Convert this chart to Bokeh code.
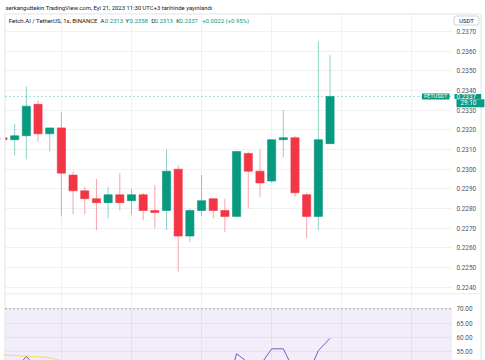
from bokeh.plotting import figure
from bokeh.models import (Range1d, LinearAxis, Grid, FixedTicker, NumeralTickFormatter,
                          Label, ColumnDataSource)
from bokeh.layouts import column
from bokeh.embed import file_html
from bokeh.resources import INLINE
from bokeh.core.properties import value

# ---------------- data ----------------
idx = list(range(29))
opens  = [0.2316, 0.2315, 0.2317, 0.2333, 0.2318, 0.2321, 0.2297, 0.2289, 0.2285, 0.2283,
          0.2287, 0.2284, 0.2287, 0.2279, 0.2279, 0.2300, 0.2266, 0.2279, 0.2285, 0.2279,
          0.2276, 0.2308, 0.2299, 0.2294, 0.2315, 0.2316, 0.2287, 0.2276, 0.2313]
highs  = [0.2316, 0.2323, 0.2342, 0.2335, 0.2321, 0.2329, 0.2299, 0.2291, 0.2295, 0.2291,
          0.2298, 0.2290, 0.2288, 0.2292, 0.2310, 0.2302, 0.2280, 0.2297, 0.2285, 0.2285,
          0.2309, 0.2309, 0.2310, 0.2315, 0.2330, 0.2317, 0.2288, 0.2365, 0.2358]
lows   = [0.2315, 0.2307, 0.2305, 0.2314, 0.2309, 0.2276, 0.2277, 0.2277, 0.2269, 0.2275,
          0.2279, 0.2277, 0.2274, 0.2270, 0.2269, 0.2248, 0.2263, 0.2276, 0.2275, 0.2268,
          0.2276, 0.2280, 0.2286, 0.2293, 0.2306, 0.2286, 0.2265, 0.2269, 0.2313]
closes = [0.2315, 0.2317, 0.2332, 0.2318, 0.2321, 0.2298, 0.2289, 0.2285, 0.2283, 0.2287,
          0.2283, 0.2287, 0.2279, 0.2278, 0.2299, 0.2266, 0.2279, 0.2284, 0.2279, 0.2276,
          0.2309, 0.2299, 0.2293, 0.2315, 0.2316, 0.2288, 0.2276, 0.2315, 0.2337]
rsi    = [50.5, 48.6, 53.2, 48.6, 49.5, 42.0, 39.5, 38.5, 38.0, 39.5,
          38.5, 39.8, 37.5, 37.2, 45.0, 35.0, 40.0, 42.5, 40.5, 39.5,
          54.2, 51.0, 50.0, 55.9, 55.9, 47.5, 46.0, 55.3, 59.6]
rsi_ma = [53.8, 53.5, 53.3, 53.1, 52.8, 51.7, 50.8, 49.9, 49.0, 48.1,
          47.2, 46.4, 45.5, 44.7, 44.2, 43.2, 42.6, 42.0, 41.4, 40.9,
          41.4, 41.8, 42.3, 43.5, 44.7, 45.3, 46.0, 47.2, 48.8]
price_ticks = [0.2240, 0.2250, 0.2260, 0.2270, 0.2280, 0.2290, 0.2300,
               0.2310, 0.2320, 0.2330, 0.2340, 0.2350, 0.2360, 0.2370]
rsi_ticks = [55, 60, 65, 70]
rsi_grid = [50, 55, 60, 65, 70, 75]
time_grid = [5, 11, 17, 23, 29, 35]
last_price = 0.2337
title_text = "serkanguttekin TradingView.com, Eyl 21, 2023 11:30 UTC+3 tarihinde yayınlandı"
legend_parts = [("Fetch.AI / TetherUS, 1s, BINANCE", "dark"), ("A", "dark"), ("0.2313", "green"),
                ("Y", "dark"), ("0.2358", "green"), ("D", "dark"), ("0.2313", "green"),
                ("K", "dark"), ("0.2337", "green"), ("+0.0022 (+0.95%)", "green")]
legend_x_px = [8.3, 100, 104.3, 125, 129, 150.7, 154, 175.7, 179, 201.7]

GREEN = "#089981"
RED = "#f23645"
DARK = "#131722"
GRID = "#f0f1f3"
BORDER = "#e0e3eb"
LABEL = "#50535e"
FONT = "Roboto"

# pixel helpers (reference pixel -> data), used only for layout decorations
def ix(xr):
    return (xr - 2.5) / 11.68

def py(yr):
    return 0.2240 + (286.7 - yr) / 19667.0

def ry(yr):
    return 70.0 - (yr - 308.3) / 2.84

W = 485
xr = Range1d(ix(0), ix(485))

def make_axis(ticks, fmt):
    return LinearAxis(ticker=FixedTicker(ticks=ticks), formatter=NumeralTickFormatter(format=fmt),
                      axis_line_color=None, major_tick_line_color=None, minor_tick_line_color=None,
                      major_tick_out=0, major_tick_in=0, minor_tick_out=0, minor_tick_in=0,
                      major_label_standoff=-29, major_label_text_font_size="6.4px",
                      major_label_text_font=FONT, major_label_text_color=LABEL)

# ---------------- price pane ----------------
p = figure(width=W, height=294, x_range=xr, y_range=Range1d(py(294), py(0)),
           x_axis_type=None, y_axis_type=None, output_backend="svg",
           toolbar_location=None, min_border_left=0, min_border_right=0,
           min_border_top=0, min_border_bottom=0, outline_line_color=None,
           background_fill_color="white", border_fill_color="white")

p.add_layout(Grid(dimension=1, ticker=FixedTicker(ticks=price_ticks), grid_line_color=GRID))
p.add_layout(Grid(dimension=0, ticker=FixedTicker(ticks=time_grid), grid_line_color=GRID))
p.add_layout(make_axis(price_ticks, "0.0000"), "right")

colors = [GREEN if c >= o else RED for o, c in zip(opens, closes)]
src = ColumnDataSource(dict(x=idx, o=opens, h=highs, l=lows, c=closes,
                            top=[max(o, c) for o, c in zip(opens, closes)],
                            bottom=[min(o, c) for o, c in zip(opens, closes)],
                            color=colors))
p.segment(x0="x", y0="h", x1="x", y1="l", source=src, line_color="color",
          line_alpha=0.45, line_width=1)
p.vbar(x="x", width=0.7, top="top", bottom="bottom", source=src,
       fill_color="color", line_color="color", line_alpha=0.6)

# white margins: above the chart frame, left strip, right price-scale strip
p.quad(left=[ix(-5), ix(-5), ix(451.5)], right=[ix(490), ix(4.5), ix(490)],
       bottom=[py(13.5), py(300), py(300)], top=[py(-5), py(-5), py(-5)],
       fill_color="white", line_color=None)
# frame borders
p.segment(x0=[ix(4.5), ix(4.5), ix(480.5), ix(4.5)],
          y0=[py(13.5), py(13.5), py(13.5), py(293.5)],
          x1=[ix(480.5), ix(4.5), ix(480.5), ix(480.5)],
          y1=[py(13.5), py(300), py(300), py(293.5)],
          line_color=BORDER, line_width=1)
# last price dashed line
p.segment(x0=[ix(4.5)], y0=[last_price], x1=[ix(451)], y1=[last_price],
          line_color=GREEN, line_alpha=0.35, line_dash="2 2", line_width=1)

p.text(x=[ix(5)], y=[py(7)], text=[title_text], text_font=value(FONT),
       text_font_size="5.9px", text_color=DARK, text_baseline="middle", text_align="left")
p.text(x=[ix(v) for v in legend_x_px], y=[py(20)] * len(legend_parts),
       text=[t for t, _ in legend_parts],
       text_color=[DARK if c == "dark" else GREEN for _, c in legend_parts],
       text_font=value(FONT), text_font_size="6px", text_baseline="middle", text_align="left")

p.add_layout(Label(x=ix(466), y=py(20), text="USDT", text_align="center", text_baseline="middle",
                   text_font=FONT, text_font_size="6px", text_color=DARK,
                   background_fill_color="white", border_line_color="#d1d4dc",
                   border_radius=2, padding=dict(left=5, right=5, top=1, bottom=1),
                   level="overlay"))
p.add_layout(Label(x=ix(449), y=last_price, text="FETUSDT", text_align="right",
                   text_baseline="middle", text_font=FONT, text_font_size="5.6px",
                   text_color="white", background_fill_color=GREEN,
                   padding=dict(left=2, right=2, top=0, bottom=0), level="overlay"))
p.add_layout(Label(x=ix(454), y=last_price, text="0.2337", text_align="left",
                   text_baseline="middle", text_font=FONT, text_font_size="6.4px",
                   text_color="white", background_fill_color=GREEN,
                   padding=dict(left=2, right=5, top=0, bottom=0), level="overlay"))
p.add_layout(Label(x=ix(456), y=py(102.8), text="29:10", text_align="left",
                   text_baseline="middle", text_font=FONT, text_font_size="6.4px",
                   text_color="white", background_fill_color=GREEN,
                   padding=dict(left=4, right=8, top=0, bottom=0), level="overlay"))

# ---------------- RSI pane ----------------
r = figure(width=W, height=66, x_range=xr, y_range=Range1d(ry(360), ry(294)),
           x_axis_type=None, y_axis_type=None, output_backend="svg",
           toolbar_location=None, min_border_left=0, min_border_right=0,
           min_border_top=0, min_border_bottom=0, outline_line_color=None,
           background_fill_color="white", border_fill_color="white")
r.add_layout(Grid(dimension=1, ticker=FixedTicker(ticks=rsi_grid), grid_line_color=GRID))
r.add_layout(Grid(dimension=0, ticker=FixedTicker(ticks=time_grid), grid_line_color=GRID))
r.add_layout(make_axis(rsi_ticks, "0.00"), "right")
# RSI 30-70 band
r.quad(left=[ix(4.5)], right=[ix(451.5)], bottom=[30], top=[70],
       fill_color="#7e57c2", fill_alpha=0.1, line_color=None)
r.quad(left=[ix(-5), ix(451.5)], right=[ix(4.5), ix(490)], bottom=[0, 0], top=[100, 100],
       fill_color="white", line_color=None)
r.segment(x0=[ix(4.5), ix(480.5)], y0=[0, 0], x1=[ix(4.5), ix(480.5)], y1=[100, 100],
          line_color=BORDER, line_width=1)
r.segment(x0=[ix(4.5)], y0=[70], x1=[ix(451.5)], y1=[70],
          line_color="#787b86", line_alpha=0.6, line_dash="2 2", line_width=1)
r.line(idx, rsi_ma, line_color="#fdd835", line_alpha=0.8, line_width=1)
r.line(idx, rsi, line_color="#7e57c2", line_width=1)

layout = column(p, r, spacing=0)
open("out.html", "w").write(file_html(layout, INLINE))
